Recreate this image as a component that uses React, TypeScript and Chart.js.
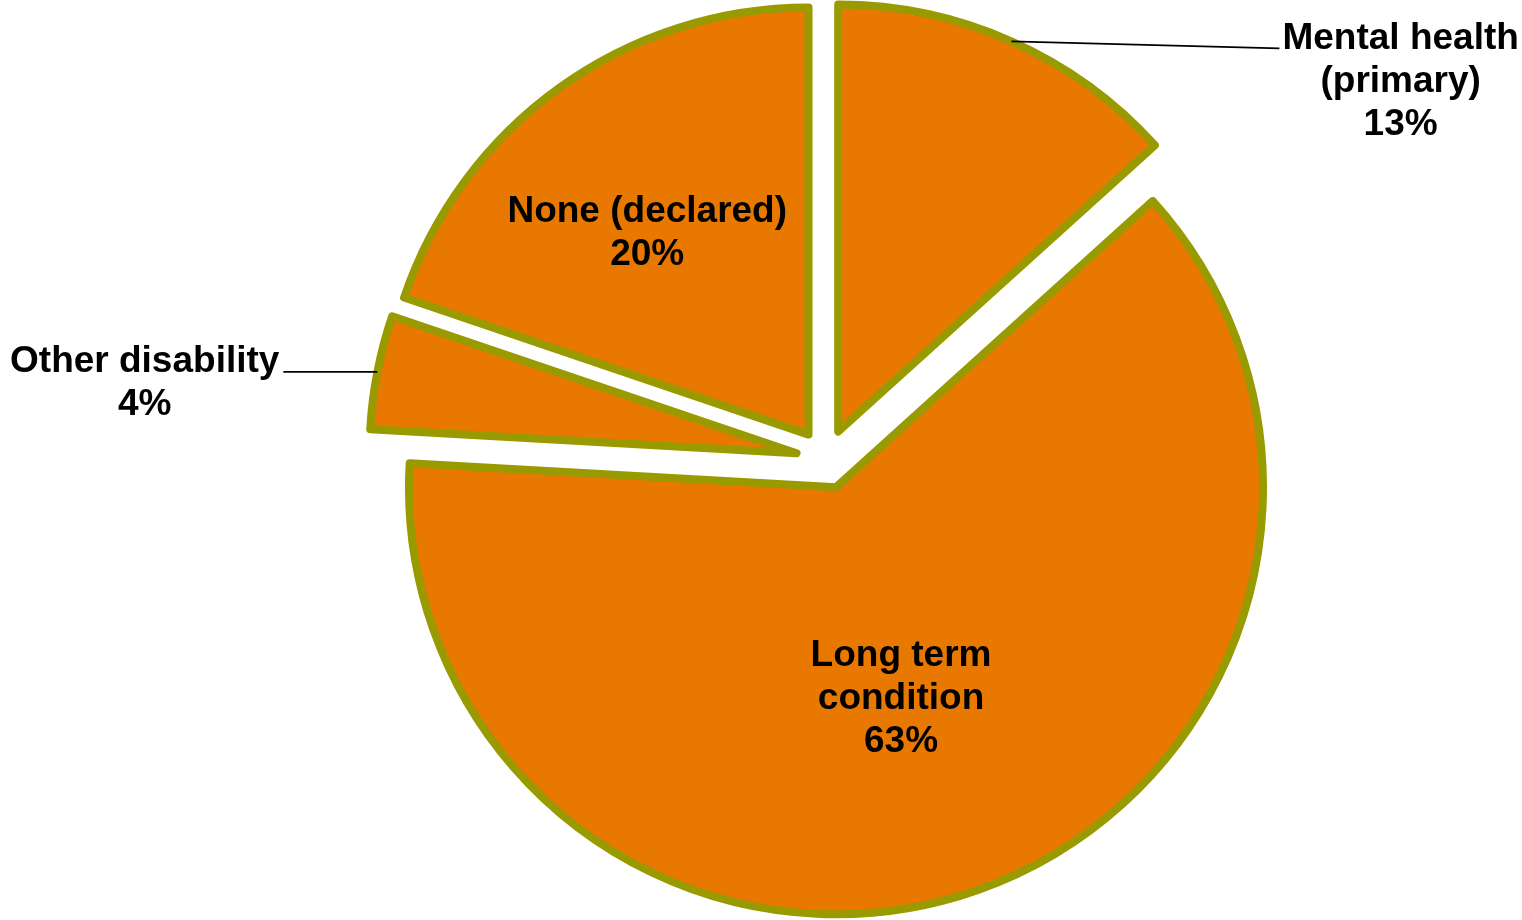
import React, { useEffect, useRef } from "react";
import { Chart, registerables } from "chart.js";

Chart.register(...registerables);

// ---- data ----
const categories = ["Mental health (primary)", "Long term condition", "Other disability", "None (declared)"];
const labelLines = [["Mental health", "(primary)"], ["Long term", "condition"], ["Other disability"], ["None (declared)"]];
const shares = [13.3, 62.6, 4.3, 19.8];

// ---- style / layout ----
const FILL = "#E87800";
const BORDER = "#999900";
const EXPLODE = 30;
const FONT_SIZE = 37;
const LINE_H = 43;
const CAP_HALF = 13;

type LabelCfg =
  | { kind: "inside"; f: number; nudge: [number, number] }
  | { kind: "outside"; side: "left" | "right"; lead: [number, number]; gap: number; firstDy: number };

const labelLayout: LabelCfg[] = [
  { kind: "outside", side: "right", lead: [268, 7], gap: 3, firstDy: -12.5 },
  { kind: "inside", f: 0.514, nudge: [-8, 2] },
  { kind: "outside", side: "left", lead: [-94, 0], gap: 4, firstDy: -13 },
  { kind: "inside", f: 0.6, nudge: [-12, 4] },
];

const explodePlugin = {
  id: "explodeSlices",
  afterDatasetUpdate(chart: any, args: any) {
    const meta = chart.getDatasetMeta(args.index);
    meta.data.forEach((el: any) => {
      const mid = (el.startAngle + el.endAngle) / 2;
      el.x += Math.cos(mid) * EXPLODE;
      el.y += Math.sin(mid) * EXPLODE;
    });
  },
};

const labelPlugin = {
  id: "sliceLabels",
  afterDatasetsDraw(chart: any) {
    const ctx: CanvasRenderingContext2D = chart.ctx;
    const meta = chart.getDatasetMeta(0);
    const values = chart.data.datasets[0].data as number[];
    const total = values.reduce((a, b) => a + b, 0);
    ctx.save();
    ctx.font = `bold ${FONT_SIZE}px "Liberation Sans", Arial, sans-serif`;
    ctx.fillStyle = "#000";
    ctx.textBaseline = "alphabetic";
    ctx.textAlign = "center";
    meta.data.forEach((el: any, i: number) => {
      const lines = [...labelLines[i], Math.round((values[i] / total) * 100) + "%"];
      const mid = (el.startAngle + el.endAngle) / 2;
      const cfg = labelLayout[i];
      if (cfg.kind === "inside") {
        const r = el.outerRadius * cfg.f;
        const x = el.x + Math.cos(mid) * r + cfg.nudge[0];
        const y = el.y + Math.sin(mid) * r + cfg.nudge[1];
        const n = lines.length;
        lines.forEach((t, k) => {
          ctx.fillText(t, x, y + (k - (n - 1) / 2) * LINE_H + CAP_HALF);
        });
      } else {
        const sx = el.x + Math.cos(mid) * el.outerRadius;
        const sy = el.y + Math.sin(mid) * el.outerRadius;
        const ex = sx + cfg.lead[0];
        const ey = sy + cfg.lead[1];
        ctx.beginPath();
        ctx.moveTo(sx, sy);
        ctx.lineTo(ex, ey);
        ctx.lineWidth = 1.8;
        ctx.strokeStyle = "#000";
        ctx.stroke();
        const w = Math.max(...lines.map((t) => ctx.measureText(t).width));
        const cx = cfg.side === "right" ? ex + cfg.gap + w / 2 : ex - cfg.gap - w / 2;
        lines.forEach((t, k) => {
          ctx.fillText(t, cx, ey + cfg.firstDy + k * LINE_H + CAP_HALF);
        });
      }
    });
    ctx.restore();
  },
};

export default function App() {
  const ref = useRef<HTMLCanvasElement | null>(null);
  useEffect(() => {
    if (!ref.current) return;
    const chart = new Chart(ref.current, {
      type: "pie",
      data: {
        labels: categories,
        datasets: [
          {
            data: shares,
            backgroundColor: FILL,
            borderColor: BORDER,
            borderWidth: 8,
            borderJoinStyle: "round",
          } as any,
        ],
      },
      options: {
        animation: false,
        responsive: true,
        maintainAspectRatio: false,
        events: [],
        radius: 427,
        layout: { padding: { left: 130, right: 0, top: 0, bottom: 2 } },
        plugins: { legend: { display: false }, tooltip: { enabled: false } },
      } as any,
      plugins: [explodePlugin, labelPlugin],
    });
    return () => chart.destroy();
  }, []);
  return (
    <div style={{ position: "fixed", left: 0, top: 0, width: 1522, height: 920, background: "#fff" }}>
      <canvas ref={ref} />
    </div>
  );
}
